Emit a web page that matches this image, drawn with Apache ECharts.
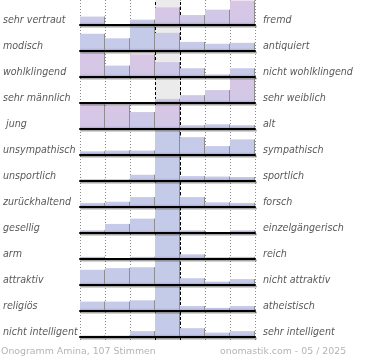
<!DOCTYPE html>
<html><head><meta charset="utf-8">
<script src="https://cdn.jsdelivr.net/npm/echarts@6/dist/echarts.min.js"></script>
<style>html,body{margin:0;padding:0;background:#fff}#c{width:370px;height:360px}</style>
</head><body><div id="c"></div>
<script>
const columns = ['1','2','3','4','5','6','7'];
const leftLabels = ['sehr vertraut','modisch','wohlklingend','sehr männlich',' jung','unsympathisch','unsportlich','zurückhaltend','gesellig','arm','attraktiv','religiös','nicht intelligent'];
const rightLabels = ['fremd','antiquiert','nicht wohlklingend','sehr weiblich','alt','sympathisch','sportlich','forsch','einzelgängerisch','reich','nicht attraktiv','atheistisch','sehr intelligent'];

// estimated votes per column (107 votes)
const vertrautFremd = [11,1,7,23,13,20,32];
const modischAntiquiert = [19,14,27,20,10,8,9];
const wohlklingend = [28,13,26,17,10,3,10];
const maennlichWeiblich = [0,0,0,9,17,28,53];
const jungAlt = [26,25,18,25,4,5,4];
const sympathisch = [5,6,6,33,24,12,21];
const sportlich = [4,4,14,55,11,10,9];
const zurueckhaltendForsch = [7,9,17,42,17,8,7];
const geselligEinzelgaenger = [5,17,27,46,5,2,5];
const armReich = [6,3,6,68,13,5,6];
const attraktiv = [18,20,21,29,8,4,7];
const religioesAtheistisch = [15,15,17,39,8,5,8];
const intelligent = [3,3,12,50,18,9,12];

// pinkish tint share of each bar (0 = blue, 1 = pink)
const tintVertraut = [0.35,0.3,0.3,0.8,0.55,0.6,0.9];
const tintModisch = [0.1,0.1,0.05,0.25,0.15,0.15,0.15];
const tintWohl = [0.9,0.2,0.9,0.5,0.25,0.2,0.2];
const tintMaennlich = [0.5,0.5,0.5,0.5,0.5,0.55,0.75];
const tintJung = [0.9,0.85,0.45,0.85,0.3,0.3,0.3];
const tintBlue = [0.1,0.1,0.1,0.05,0.1,0.1,0.1];

const rows = [vertrautFremd, modischAntiquiert, wohlklingend, maennlichWeiblich, jungAlt, sympathisch, sportlich, zurueckhaltendForsch, geselligEinzelgaenger, armReich, attraktiv, religioesAtheistisch, intelligent];
const tints = [tintVertraut, tintModisch, tintWohl, tintMaennlich, tintJung, tintBlue, tintBlue, tintBlue, tintBlue, tintBlue, tintBlue, tintBlue, tintBlue];

function hex(c){return [parseInt(c.slice(1,3),16),parseInt(c.slice(3,5),16),parseInt(c.slice(5,7),16)];}
function mix(a,b,t){const A=hex(a),B=hex(b);return 'rgb('+A.map((v,i)=>Math.round(v+(B[i]-v)*t)).join(',')+')';}
const BLUE='#c3cbe9', PINK='#ddc5e4';

function renderBar(params, api){
  const i = api.value(0), v = api.value(1), t = api.value(2);
  const base = api.coord([i,0]);
  const top = api.coord([i,v]);
  const w = api.size([1,0])[0];
  const x = base[0]-w/2;
  const h = base[1]-top[1];
  if (h < 0.3) return null;
  const band = Math.min(1, 3/h);
  const fill = new echarts.graphic.LinearGradient(0,0,0,1,[
    {offset:0,color:mix(BLUE,PINK,t)},
    {offset:Math.max(0,1-band),color:mix(BLUE,PINK,t*0.7)},
    {offset:1,color:'#a69ace'}
  ]);
  return {type:'group',children:[
    {type:'rect',shape:{x:x,y:top[1],width:w,height:h},style:{fill:fill}},
    {type:'line',shape:{x1:x+w-0.5,y1:top[1],x2:x+w-0.5,y2:base[1]},style:{stroke:'#8e8e8e',lineWidth:1}}
  ]};
}

const L=80, W=175, ROWH=24.5;
const grid=[{left:L,width:W,top:0,height:340},{left:L,width:W,top:7,height:338}];
const labelFont={color:'#585858',fontSize:10.6,fontStyle:'italic',fontFamily:'DejaVu Sans Condensed, DejaVu Sans'};
const xAxis=[
  {gridIndex:0,type:'value',min:0,max:7,interval:1,axisLine:{show:false},axisTick:{show:false},axisLabel:{show:false},
   splitLine:{show:true,lineStyle:{color:'#8a8a8a',width:1,type:[1,2]}}},
  {gridIndex:1,type:'value',show:false}
];
const yAxis=[
  {gridIndex:0,type:'value',min:0,max:1,show:false},
  {gridIndex:1,type:'category',data:leftLabels,inverse:true,position:'left',axisLine:{show:false},axisTick:{show:false},splitLine:{show:false},
   axisLabel:Object.assign({align:'left',margin:79},labelFont)},
  {gridIndex:1,type:'category',data:rightLabels,inverse:true,position:'right',axisLine:{show:false},axisTick:{show:false},splitLine:{show:false},
   axisLabel:Object.assign({align:'left',margin:8},labelFont)}
];
const series=[
  {type:'line',xAxisIndex:0,yAxisIndex:0,data:[],z:0,silent:true,
   markArea:{silent:true,itemStyle:{color:'#ebebeb'},data:[[{xAxis:3},{xAxis:4}]]}},
  {type:'line',xAxisIndex:0,yAxisIndex:0,data:[],z:20,silent:true,
   markLine:{silent:true,symbol:'none',label:{show:false},lineStyle:{color:'#000',width:1,type:[3,2]},data:[{xAxis:3},{xAxis:4}]}},
  {type:'line',xAxisIndex:1,yAxisIndex:1,data:[],silent:true}
];
rows.forEach((row,k)=>{
  const base = 25 + 26*k;
  grid.push({left:L,width:W,top:base-ROWH,height:ROWH});
  const gi = grid.length-1;
  xAxis.push({gridIndex:gi,type:'category',data:columns,z:10,axisTick:{show:false},axisLabel:{show:false},splitLine:{show:false},
    axisLine:{lineStyle:{color:'#000',width:2,shadowColor:'rgba(0,0,0,0.35)',shadowOffsetY:1.5,shadowOffsetX:1,shadowBlur:0}}});
  const xi = xAxis.length-1;
  yAxis.push({gridIndex:gi,type:'value',min:0,max:Math.max(...row),show:false,splitLine:{show:false}});
  const yi = yAxis.length-1;
  series.push({type:'custom',coordinateSystem:'cartesian2d',xAxisIndex:xi,yAxisIndex:yi,z:5,silent:true,renderItem:renderBar,
    encode:{x:0,y:1},data:row.map((v,i)=>[i,v,tints[k][i]])});
});

const chart=echarts.init(document.getElementById('c'),null,{renderer:'canvas'});
const footFont={fontSize:9.4,color:'#b4b4b4',fontWeight:'normal',fontFamily:'DejaVu Sans'};
chart.setOption({
  animation:false,
  title:[
    {text:'Onogramm Amina, 107 Stimmen',left:1,top:347,padding:0,textStyle:footFont},
    {text:'onomastik.com - 05 / 2025',left:220,top:347,padding:0,textStyle:footFont}
  ],
  grid:grid,xAxis:xAxis,yAxis:yAxis,series:series
});
</script></body></html>
